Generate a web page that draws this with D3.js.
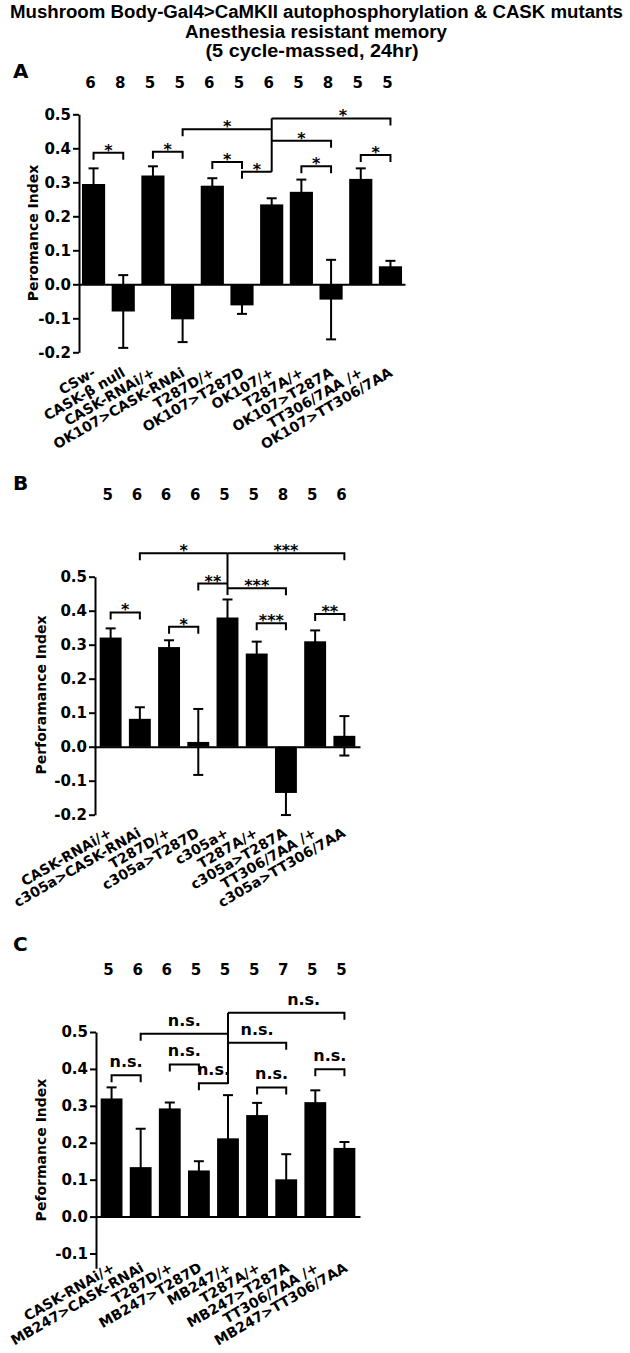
<!DOCTYPE html>
<html>
<head>
<meta charset="utf-8">
<script src="https://cdn.jsdelivr.net/npm/d3@7"></script>
<style>
  body { margin: 0; background: #fff; }
  text { font-family: "DejaVu Sans", sans-serif; font-weight: bold; fill: #000; }
</style>
</head>
<body>
<div id="chart"></div>
<script>
const titleLines = [
  "Mushroom Body-Gal4>CaMKII autophosphorylation & CASK mutants",
  "Anesthesia resistant memory",
  "(5 cycle-massed, 24hr)"
];

// panel A - OK107
const catsA = ["CSw-", "CASK-β null", "CASK-RNAi/+", "OK107>CASK-RNAi", "T287D/+", "OK107>T287D",
  "OK107/+", "T287A/+", "OK107>T287A", "TT306/7AA /+", "OK107>TT306/7AA"];
const meanA = [0.295, -0.08, 0.32, -0.103, 0.29, -0.062, 0.235, 0.272, -0.045, 0.31, 0.053];
const semA  = [0.046, 0.107, 0.027, 0.067, 0.022, 0.025, 0.018, 0.036, 0.117, 0.031, 0.016];
const nA    = [6, 8, 5, 5, 6, 5, 6, 5, 8, 5, 5];
// [bar a, bar b, level, label, drop ends, label position along bracket]
const sigA = [
  [0, 1, 0.387, "*", "both"],
  [2, 3, 0.39, "*", "both"],
  [4, 5, 0.36, "*", "both"],
  [5, 6, 0.331, "*", "left"],
  [3, 6, 0.456, "*", "left"],
  [6, 10, 0.488, "*", "right", 0.6],
  [6, 8, 0.422, "*", "right"],
  [7, 8, 0.347, "*", "both"],
  [9, 10, 0.38, "*", "both"]
];
const hubA = [6, 0.488, 0.331];

// panel B - c305a
const catsB = ["CASK-RNAi/+", "c305a>CASK-RNAi", "T287D/+", "c305a>T287D", "c305a+",
  "T287A/+", "c305a>T287A", "TT306/7AA /+", "c305a>TT306/7AA"];
const meanB = [0.321, 0.082, 0.293, 0.014, 0.38, 0.274, -0.136, 0.31, 0.032];
const semB  = [0.027, 0.034, 0.02, 0.097, 0.053, 0.035, 0.065, 0.032, 0.058];
const nB    = [5, 6, 6, 6, 5, 5, 8, 5, 6];
const sigB = [
  [0, 1, 0.395, "*", "both"],
  [2, 3, 0.353, "*", "both"],
  [1, 4, 0.569, "*", "left"],
  [4, 8, 0.569, "***", "right"],
  [3, 4, 0.48, "**", "left"],
  [4, 6, 0.466, "***", "right"],
  [5, 6, 0.363, "***", "both"],
  [7, 8, 0.39, "**", "both"]
];
const hubB = [4, 0.569, 0.446];

// panel C - MB247
const catsC = ["CASK-RNAi/+", "MB247>CASK-RNAi", "T287D/+", "MB247>T287D", "MB247/+",
  "T287A/+", "MB247>T287A", "TT306/7AA /+", "MB247>TT306/7AA"];
const meanC = [0.32, 0.134, 0.293, 0.125, 0.212, 0.275, 0.101, 0.31, 0.186];
const semC  = [0.03, 0.104, 0.016, 0.025, 0.117, 0.033, 0.068, 0.032, 0.016];
const nC    = [5, 6, 6, 5, 5, 5, 7, 5, 5];
const sigC = [
  [0, 1, 0.383, "n.s.", "both"],
  [2, 3, 0.412, "n.s.", "both"],
  [3, 4, 0.361, "n.s.", "left"],
  [1, 4, 0.495, "n.s.", "left"],
  [4, 8, 0.552, "n.s.", "right", 0.65],
  [4, 6, 0.471, "n.s.", "right"],
  [5, 6, 0.35, "n.s.", "both"],
  [7, 8, 0.399, "n.s.", "both"]
];
const hubC = [4, 0.552, 0.359];

const ticksAB = [-0.2, -0.1, 0.0, 0.1, 0.2, 0.3, 0.4, 0.5];
const ticksC = [-0.1, 0.0, 0.1, 0.2, 0.3, 0.4, 0.5];

const W = 630, H = 1353;
const svg = d3.select("#chart").append("svg").attr("width", W).attr("height", H);

// title
const titleX = [316.5, 316, 312], titleY = [18, 38, 57], titleLen = [613, 262, 213];
svg.selectAll(".title").data(titleLines).enter().append("text")
  .attr("x", (d, i) => titleX[i]).attr("y", (d, i) => titleY[i])
  .attr("text-anchor", "middle")
  .attr("textLength", (d, i) => titleLen[i]).attr("lengthAdjust", "spacingAndGlyphs")
  .style("font-family", "'Liberation Sans', Arial, sans-serif")
  .style("font-size", "18px")
  .text(d => d);

const fmt = d3.format(".1f");

function drawPanel(p, cats, means, sems, ns, sig, hub) {
  const g = svg.append("g");
  const x = d3.scaleBand().domain(cats).range([p.x0, p.x1])
    .paddingInner(p.padIn).paddingOuter(p.padOut);
  const y = d3.scaleLinear().domain([p.yMin, 0.5]).range([p.yBottom, p.yTop]);
  const cx = i => x(cats[i]) + x.bandwidth() / 2;

  // panel letter
  g.append("text").attr("x", 13).attr("y", p.letterY).style("font-size", "20px").text(p.letter);

  // n per group
  g.selectAll(".n").data(ns).enter().append("text")
    .attr("x", (d, i) => cx(i) - 3).attr("y", p.nY)
    .attr("text-anchor", "middle").style("font-size", "15px")
    .text(d => d);

  // bars
  g.selectAll(".bar").data(means).enter().append("rect")
    .attr("x", (d, i) => x(cats[i]))
    .attr("width", x.bandwidth())
    .attr("y", d => y(Math.max(0, d)))
    .attr("height", d => Math.abs(y(d) - y(0)))
    .attr("fill", "#000");

  // error bars (sem)
  const eb = g.selectAll(".err").data(means).enter().append("g")
    .attr("stroke", "#000").attr("stroke-width", 2);
  eb.append("line")
    .attr("x1", (d, i) => cx(i)).attr("x2", (d, i) => cx(i))
    .attr("y1", (d, i) => y(d - sems[i])).attr("y2", (d, i) => y(d + sems[i]));
  eb.append("line")
    .attr("x1", (d, i) => cx(i) - 5).attr("x2", (d, i) => cx(i) + 5)
    .attr("y1", (d, i) => y(d + sems[i])).attr("y2", (d, i) => y(d + sems[i]));
  eb.append("line")
    .attr("x1", (d, i) => cx(i) - 5).attr("x2", (d, i) => cx(i) + 5)
    .attr("y1", (d, i) => y(d - sems[i])).attr("y2", (d, i) => y(d - sems[i]));

  // y axis
  const yAxis = d3.axisLeft(y).tickValues(p.ticks).tickSize(6).tickSizeOuter(0).tickPadding(2)
    .tickFormat(d => fmt(d).replace("\u2212", "-"));
  g.append("g").attr("transform", `translate(${p.x0},0)`).call(yAxis)
    .call(a => a.select(".domain").attr("stroke-width", 2).attr("stroke", "#000"))
    .call(a => a.selectAll(".tick line").attr("stroke-width", 2).attr("stroke", "#000"))
    .call(a => a.selectAll(".tick text").style("font-size", "15px"));

  // zero line
  const xAxis = d3.axisBottom(x).tickSize(0).tickSizeOuter(0).tickFormat("");
  g.append("g").attr("transform", `translate(0,${y(0)})`).call(xAxis)
    .call(a => a.select(".domain").attr("stroke-width", 2).attr("stroke", "#000"));

  // category labels
  g.selectAll(".xl").data(cats).enter().append("text")
    .attr("transform", (d, i) => `translate(${cx(i) + p.lx},${y(p.ticks[0]) + p.ly}) rotate(-30)`)
    .attr("text-anchor", "end").style("font-size", "14px")
    .text(d => d);

  // y title
  g.append("text")
    .attr("transform", `translate(${p.titleX},${p.titleY}) rotate(-90)`)
    .attr("text-anchor", "middle").attr("dy", "0.35em")
    .style("font-size", "14px").text(p.yTitle);

  // significance brackets
  const drop = 7;
  const bk = g.append("g").attr("fill", "none").attr("stroke", "#000").attr("stroke-width", 2);
  sig.forEach(([a, b, lev, lab, ends, at]) => {
    const xa = cx(a), xb = cx(b), yl = y(lev);
    let path;
    if (ends === "both") path = `M${xa},${yl + drop}V${yl}H${xb}V${yl + drop}`;
    else if (ends === "left") path = `M${xa},${yl + drop}V${yl}H${xb}`;
    else path = `M${xa},${yl}H${xb}V${yl + drop}`;
    bk.append("path").attr("d", path);
    const star = lab.indexOf("*") >= 0;
    g.append("text")
      .attr("x", xa + (xb - xa) * (at || 0.5))
      .attr("y", star ? yl + 3 : yl - 8)
      .attr("text-anchor", "middle")
      .style("font-size", "16px")
      .text(lab);
  });
  bk.append("line")
    .attr("x1", cx(hub[0])).attr("x2", cx(hub[0]))
    .attr("y1", y(hub[1])).attr("y2", y(hub[2]));
}

drawPanel({ letter: "A", letterY: 78, nY: 88, x0: 79, x1: 405, padIn: 0.22, padOut: 0.1,
  yMin: -0.2, yBottom: 352.3, yTop: 114.3, ticks: ticksAB, lx: 3, ly: 23,
  titleX: 33, titleY: 233, yTitle: "Peromance Index" },
  catsA, meanA, semA, nA, sigA, hubA);

drawPanel({ letter: "B", letterY: 490, nY: 500, x0: 95, x1: 360, padIn: 0.25, padOut: 0.16,
  yMin: -0.2, yBottom: 814.7, yTop: 576.7, ticks: ticksAB, lx: 2, ly: 21,
  titleX: 41, titleY: 695, yTitle: "Perforamance Index" },
  catsB, meanB, semB, nB, sigB, hubB);

drawPanel({ letter: "C", letterY: 951, nY: 975, x0: 96, x1: 360, padIn: 0.25, padOut: 0.16,
  yMin: -0.14, yBottom: 1268.3, yTop: 1032, ticks: ticksC, lx: 4, ly: 17,
  titleX: 41, titleY: 1150, yTitle: "Peformance Index" },
  catsC, meanC, semC, nC, sigC, hubC);
</script>
</body>
</html>
